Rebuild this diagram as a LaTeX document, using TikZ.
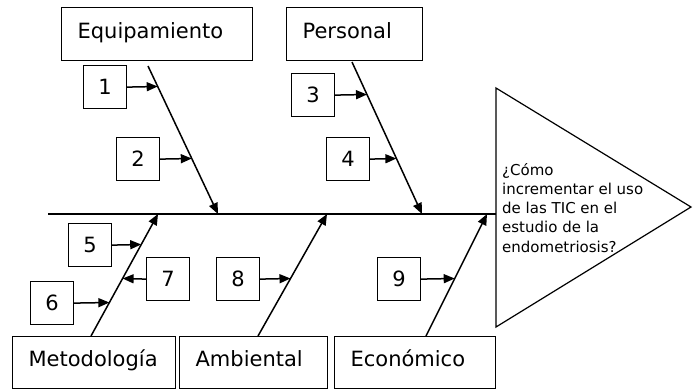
\documentclass[tikz,border=0pt]{standalone}
\usepackage{fontspec}
\setmainfont{DejaVu Sans}
\usetikzlibrary{arrows.meta}
\begin{document}
\begin{tikzpicture}[x=1pt,y=-1pt,
  lab/.style={draw, line width=1.2pt, minimum height=53pt, inner xsep=16pt, inner ysep=0pt, align=left, text height=13pt, text depth=5pt, font=\fontsize{21}{24}\selectfont, anchor=north west},
  num/.style={draw, line width=1.2pt, minimum width=43pt, minimum height=43pt, inner sep=0pt, font=\fontsize{21}{24}\selectfont, anchor=north west},
  bone/.style={line width=1.5pt},
  arr/.style={line width=1.5pt, -{Triangle[length=11pt,width=9pt]}},
]
\useasboundingbox (0,0) rectangle (699,389);
% category boxes
\node[lab, text width=159pt] (eq) at (61,7) {Equipamiento};
\node[lab, text width=104pt] (pers) at (286,7) {Personal};
\node[lab, text width=131pt, minimum height=52pt] (met) at (12,336) {Metodología};
\node[lab, text width=116pt, minimum height=52pt] (amb) at (179,336) {Ambiental};
\node[lab, text width=129pt, minimum height=52pt] (eco) at (334,336) {Económico};
% number boxes
\node[num] (n1) at (83,65) {1};
\node[num] (n2) at (116,137) {2};
\node[num] (n3) at (291,73) {3};
\node[num] (n4) at (326,137) {4};
\node[num] (n5) at (68,223) {5};
\node[num] (n6) at (30,281) {6};
\node[num] (n7) at (146,257) {7};
\node[num] (n8) at (216,257) {8};
\node[num] (n9) at (377,257) {9};
% triangle (effect)
\coordinate (triA) at (496,88);
\coordinate (triB) at (691,207);
\coordinate (triC) at (496,327);
\draw[line width=1.2pt, line join=miter] (triA) -- (triB) -- (triC) -- cycle;
\node[anchor=north west, align=left, inner sep=0pt, font=\fontsize{15}{19.2}\selectfont] (effect) at (502,163)
  {¿Cómo\\incrementar el uso\\de las TIC en el\\estudio de la\\endometriosis?};
% spine
\coordinate (spL) at (48,214);
\draw[bone] (spL) -- (spL -| triA);
% bones
\coordinate (eqS) at (148,66);   \coordinate (eqE) at (218,214);
\coordinate (peS) at (352,62);   \coordinate (peE) at (422,214);
\coordinate (meS) at (91,336);   \coordinate (meE) at (158,214);
\coordinate (amS) at (258,336);  \coordinate (amE) at (327,214);
\coordinate (ecS) at (426,336);  \coordinate (ecE) at (487,214);
\draw[arr] (eqS) -- (eqE);
\draw[arr] (peS) -- (peE);
\draw[arr] (meS) -- (meE);
\draw[arr] (amS) -- (amE);
\draw[arr] (ecS) -- (ecE);
% cause arrow tips
\coordinate (t1) at (157.7,86.5);
\coordinate (t2) at (191.8,158.5);
\coordinate (t3) at (367,94.5);
\coordinate (t4) at (396.4,158.5);
\coordinate (t5) at (141.2,244.5);
\coordinate (t6) at (109.4,302.5);
\coordinate (t7) at (122.6,278.5);
\coordinate (t8) at (290.5,278.5);
\coordinate (t9) at (454.7,278.5);
\draw[arr] (n1.east) -- (t1);
\draw[arr] (n2.east) -- (t2);
\draw[arr] (n3.east) -- (t3);
\draw[arr] (n4.east) -- (t4);
\draw[arr] (n5.east) -- (t5);
\draw[arr] (n6.east) -- (t6);
\draw[arr] (n7.west) -- (t7);
\draw[arr] (n8.east) -- (t8);
\draw[arr] (n9.east) -- (t9);
\end{tikzpicture}
\end{document}
